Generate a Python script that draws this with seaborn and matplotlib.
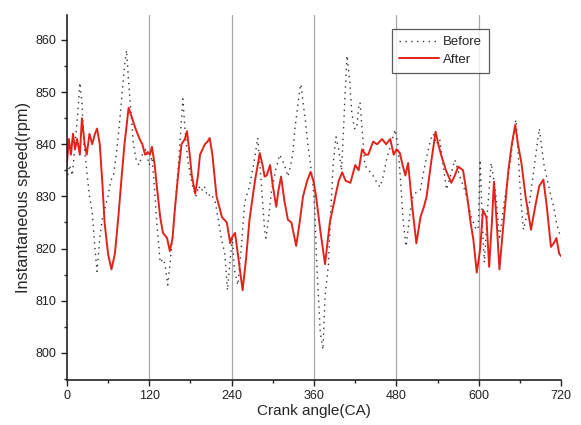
import numpy as np
import pandas as pd
import matplotlib
matplotlib.use("Agg")
import matplotlib.pyplot as plt
from matplotlib.ticker import MultipleLocator
import seaborn as sns

# -----------------------------------------------------------------------------
# Data (crank angle in degrees, speed in rpm)
# -----------------------------------------------------------------------------
before_angle = [0, 4, 8, 12, 16, 19, 22, 25, 29, 33, 37, 41, 44, 48, 52, 56, 60, 64, 68, 72,
                76, 80, 84, 87, 90, 94, 97, 101, 105, 110, 115, 120, 124, 128, 131, 136, 140,
                143, 147, 151, 155, 159, 162, 166, 169, 172, 176, 180, 183, 188, 192, 196, 200,
                205, 210, 216, 220, 225, 230, 234, 238, 241, 244, 249, 254, 259, 266, 272, 278,
                283, 288, 290, 294, 298, 304, 310, 317, 322, 325, 329, 332, 336, 339, 341, 344,
                347, 351, 354, 358, 361, 364, 369, 373, 376, 381, 384, 388, 392, 396, 400, 403,
                405, 408, 412, 415, 419, 422, 425, 427, 431, 434, 439, 444, 450, 456, 461, 466,
                472, 478, 482, 486, 490, 494, 499, 504, 510, 515, 520, 526, 530, 534, 538, 543,
                548, 553, 559, 565, 572, 580, 584, 589, 595, 599, 602, 605, 608, 613, 618, 622,
                625, 630, 634, 637, 641, 644, 649, 654, 657, 659, 662, 665, 669, 674, 678, 681,
                685, 688, 691, 695, 700, 705, 709, 713, 717, 720]
before_speed = [833, 836, 834, 840, 846, 851.8, 848, 840, 835, 830, 827, 820, 815.6, 822, 826,
                828, 830, 833, 834, 838, 843, 849, 855, 858, 852, 845, 840, 837, 836, 838, 839,
                836, 837.6, 831, 825, 817.3, 818, 817, 813, 818, 823.6, 830, 835, 843, 848.7,
                843, 837, 834, 832, 830, 832, 831, 832, 830, 830.5, 829, 826, 822, 819, 812,
                818, 822, 816, 813, 820, 828.8, 832, 836, 841.2, 833, 823.6, 822, 826, 831, 835,
                838, 836, 833.8, 835.4, 838, 842.8, 847, 850.4, 851.5, 848, 845, 840, 837, 833,
                828, 817, 804, 800.6, 810.8, 817, 826, 836.4, 841.4, 839, 835, 843, 849, 857,
                852, 846, 843, 843, 847, 848, 841, 836, 835, 834.5, 833, 831.8, 834, 837.3, 840,
                842.8, 840, 833, 825, 820.4, 826, 830, 831, 831.3, 835, 838.7, 841, 842, 840,
                841, 836, 831.3, 834, 837, 834, 831, 829, 826, 824, 823.6, 837, 825, 817.3, 828,
                836.4, 833, 830, 821.7, 826, 829, 832, 835, 840, 844.7, 839, 834, 828, 823.6,
                826, 829, 833, 836, 840, 843, 840, 836, 833, 830, 828, 825, 823, 822]

after_angle = [0, 3, 6, 9, 12, 15, 19, 22, 26, 29, 33, 37, 41, 44, 48, 52, 55, 60, 65, 70, 75,
               80, 84, 90, 95, 100, 106, 110, 114, 118, 121, 124, 128, 131, 136, 140, 146, 150,
               154, 157, 162, 167, 172, 175, 179, 182, 187, 191, 194, 201, 205, 208, 212, 218,
               226, 233, 238, 240, 245, 250, 256, 261, 266, 274, 281, 285, 288, 291, 296, 300,
               305, 308, 312, 317, 322, 327, 334, 339, 344, 350, 355, 359, 363, 369, 376, 383,
               391, 396, 401, 406, 413, 420, 425, 430, 435, 439, 446, 452, 459, 465, 471, 476,
               480, 485, 489, 493, 497, 503, 509, 515, 520, 524, 530, 537, 541, 545, 552, 560,
               565, 570, 577, 583, 588, 592, 597, 602, 606, 611, 615, 619, 622, 626, 630, 636,
               643, 648, 653, 657, 662, 668, 676, 682, 688, 694, 699, 705, 709, 713, 717, 720]
after_speed = [836, 841, 838, 842, 839, 841, 838, 845, 840, 838, 842, 840, 842, 843, 840, 832,
               825, 819, 816, 819, 826, 834, 840, 847, 845, 843, 841, 840, 838, 838.5, 838,
               839.5, 836, 832, 826, 823, 822, 819.5, 822, 827, 834, 840, 841, 842.5, 838, 834,
               830.5, 834, 838, 840, 840.5, 841.2, 838, 830, 826, 825, 821, 822, 823, 818, 812,
               818, 825.5, 833, 838.3, 836, 833.8, 834, 836, 832, 828, 831, 833.8, 829, 825.5,
               825, 820.5, 825, 830, 833, 834.7, 833, 830, 823.6, 817, 825, 830, 833, 834.6,
               833, 832.6, 836, 835, 839, 838, 838, 840.5, 840, 841, 840, 841, 838, 839, 838.3,
               836, 834, 836.4, 828, 821, 826, 828, 830, 836, 842.4, 840, 838, 835, 832.6, 834,
               835.7, 835, 830, 825, 821.7, 815.4, 820, 827.4, 826, 816.5, 825, 832.8, 825, 816,
               825, 835, 840, 843.7, 840, 836.4, 830, 823.6, 828, 832, 833.2, 828, 820.3, 821,
               822, 819, 818.5]

df_before = pd.DataFrame({"angle": before_angle, "speed": before_speed})
df_after = pd.DataFrame({"angle": after_angle, "speed": after_speed})

# -----------------------------------------------------------------------------
# Plot
# -----------------------------------------------------------------------------
sns.set_style("ticks")
plt.rcParams["font.family"] = ["Liberation Sans", "DejaVu Sans"]

fig = plt.figure(figsize=(5.81, 4.25), dpi=100)
ax = fig.add_axes([0.115, 0.106, 0.851, 0.859])

for x in [120, 240, 360, 480, 600]:
    ax.axvline(x, color="#a8a8a8", lw=0.9, zorder=0)

sns.lineplot(data=df_before, x="angle", y="speed", ax=ax, color="#333333",
             lw=1.0, linestyle=(0, (1, 3.2)), label="Before", estimator=None, sort=False)
sns.lineplot(data=df_after, x="angle", y="speed", ax=ax, color="#e2231a",
             lw=1.4, label="After", estimator=None, sort=False)

ax.set_xlim(0, 720)
ax.set_ylim(794.8, 864.8)
ax.xaxis.set_major_locator(MultipleLocator(120))
ax.xaxis.set_minor_locator(MultipleLocator(60))
ax.yaxis.set_major_locator(MultipleLocator(10))
ax.yaxis.set_minor_locator(MultipleLocator(5))
ax.tick_params(axis="both", which="major", direction="out", length=4, width=1,
               labelsize=9, colors="#222222")
ax.tick_params(axis="both", which="minor", direction="out", length=2.5, width=1,
               colors="#222222")

for side in ["top", "right"]:
    ax.spines[side].set_visible(False)
for side in ["left", "bottom"]:
    ax.spines[side].set_linewidth(1.2)
    ax.spines[side].set_color("#222222")

ax.set_xlabel("Crank angle(CA)", fontsize=11, labelpad=1)
ax.set_ylabel("Instantaneous speed(rpm)", fontsize=11.8, labelpad=3)

leg = ax.legend(loc="upper left", bbox_to_anchor=(0.658, 0.962), fontsize=9.5,
                frameon=True, fancybox=False, edgecolor="#333333", handlelength=3.0,
                borderpad=0.55, labelspacing=0.4, handletextpad=0.3, borderaxespad=0)
leg.get_frame().set_linewidth(0.9)

fig.savefig("out.png", dpi=100)
